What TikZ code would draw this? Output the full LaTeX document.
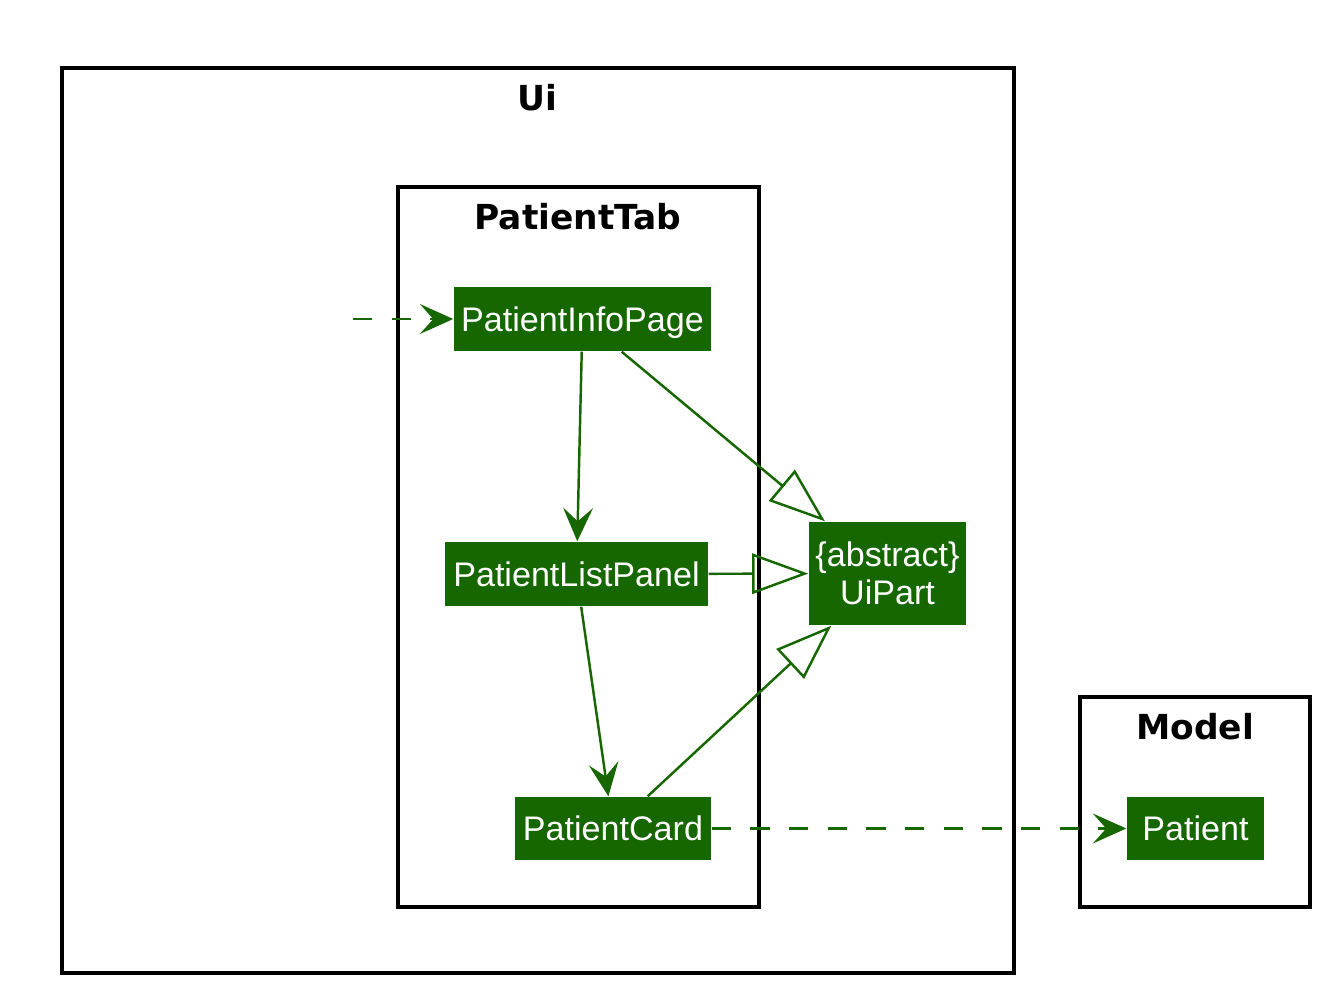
\documentclass[tikz,border=0pt]{standalone}
\usepackage{fontspec}
\setmainfont{Liberation Sans}
\newfontfamily\titlefont{DejaVu Sans}
\usepackage{xcolor}
\usetikzlibrary{arrows.meta, positioning}
\definecolor{umlgreen}{RGB}{22,103,0}
\tikzset{
    pkg/.style={draw, line width=1pt},
    pkgtitle/.style={inner sep=0pt, font=\titlefont\bfseries\fontsize{9.8}{11}\selectfont},
    box/.style={fill=umlgreen, text=white, inner sep=0pt, align=center, font=\fontsize{9.7}{10.8}\selectfont},
    cls/.style={box, text height=6.95pt, text depth=0pt},
    assoc/.style={umlgreen, line width=0.7pt, -{Stealth[length=9.5pt, width=8.5pt, inset=3.8pt]}},
    dep/.style={assoc, dash pattern=on 5.5pt off 5.5pt},
    inherit/.style={umlgreen, line width=0.7pt, -{Triangle[open, length=16pt, width=11.5pt]}}
}

\begin{document}
\begin{tikzpicture}
    \useasboundingbox (0,0) rectangle (13.38,-10.02);
    % Packages
    \draw[pkg] (0.62,-0.68) rectangle (10.14,-9.73);
    \node[pkgtitle] (uititle) at (5.37,-0.975) {Ui};
    \draw[pkg] (3.98,-1.87) rectangle (7.59,-9.07);
    \node[pkgtitle] (tabtitle) at (5.78,-2.17) {PatientTab};
    \draw[pkg] (10.80,-6.97) rectangle (13.10,-9.07);
    \node[pkgtitle] (modeltitle) at (11.95,-7.27) {Model};
    % Classes
    \node[cls, minimum width=2.57cm, minimum height=0.64cm] (info) at (5.825,-3.19) {PatientInfoPage};
    \node[cls, minimum width=2.63cm, minimum height=0.64cm] (list) at (5.765,-5.74) {PatientListPanel};
    \node[cls, minimum width=1.96cm, minimum height=0.63cm] (card) at (6.13,-8.285) {PatientCard};
    \node[box, minimum width=1.57cm, minimum height=1.03cm] (uipart) at (8.875,-5.735) {\{abstract\}\\UiPart};
    \node[cls, minimum width=1.37cm, minimum height=0.63cm] (patient) at (11.955,-8.285) {Patient};
    % Entry point
    \coordinate (entry) at (3.53,-3.19);
    % Dependencies
    \draw[dep] (entry) -- (info);
    \draw[assoc] (info) -- (list);
    \draw[assoc] (list) -- (card);
    \draw[dep] (card) -- (patient);
    % Inheritance
    \draw[inherit] (info) -- (uipart);
    \draw[inherit] (list) -- (uipart);
    \draw[inherit] (card) -- (uipart);
\end{tikzpicture}
\end{document}
